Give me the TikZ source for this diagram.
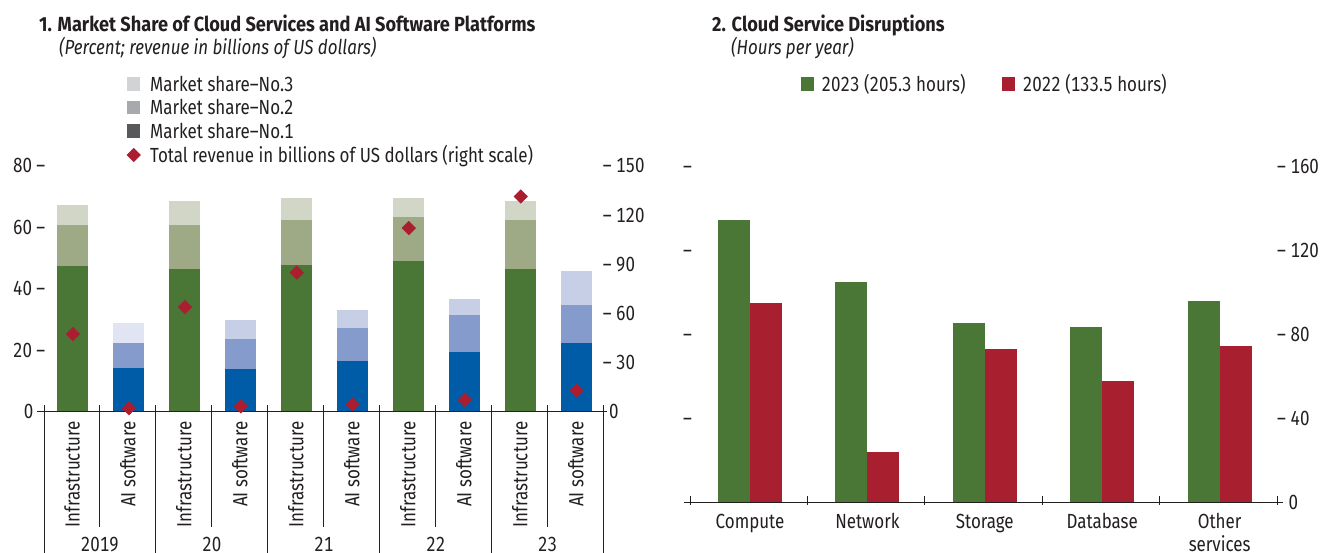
\documentclass[tikz,border=0pt]{standalone}
\usepackage{fontspec}
\setmainfont{Fira Sans}[FakeStretch=0.83, Numbers=Monospaced]
\newfontfamily\headfont{Fira Sans}[FakeStretch=0.89]
\usetikzlibrary{shapes.geometric}

\definecolor{ink}{HTML}{231F20}
\definecolor{inf1}{HTML}{4A7636}
\definecolor{inf2}{HTML}{9DAA85}
\definecolor{inf3}{HTML}{D2D6C6}
\definecolor{ai1}{HTML}{005CA6}
\definecolor{ai2}{HTML}{859BCB}
\definecolor{ai3}{HTML}{C7CFE6}
\definecolor{ai3a}{HTML}{E0E4F3}
\definecolor{rev}{HTML}{AA1E30}
\definecolor{lg1}{HTML}{58595B}
\definecolor{lg2}{HTML}{A7A9AC}
\definecolor{lg3}{HTML}{D1D3D4}
\definecolor{yr23}{HTML}{4A7636}
\definecolor{yr22}{HTML}{A81F2F}

\begin{document}
\begin{tikzpicture}[x=1bp, y=-1bp,
  lbl/.style={inner sep=0pt, text=ink, font=\fontsize{20.5}{23}\selectfont},
  ttl/.style={lbl, font=\fontsize{20.5}{23}\selectfont\headfont\bfseries},
  sub/.style={lbl, font=\fontsize{20.5}{23}\selectfont\itshape},
  key/.style={inner sep=0pt, minimum size=13.4bp, draw=none},
  diam/.style={diamond, inner sep=0pt, minimum width=14.5bp, minimum height=14.5bp, fill=rev, draw=none},
  axisline/.style={line width=1.2bp, draw=ink},
  sepline/.style={line width=1bp, draw=ink}]
\useasboundingbox (0,0) rectangle (1320,553);

% ---------------- Panel 1: market share ----------------
\node[ttl, anchor=base west] (t1) at (39,31.7) {1. Market Share of Cloud Services and AI Software Platforms};
\node[sub, anchor=base west] (s1) at (59,54.3) {(Percent; revenue in billions of US dollars)};

\foreach \c/\y/\t [count=\i] in {lg3/84/Market share–No.3, lg2/107.3/Market share–No.2, lg1/131/Market share–No.1}{
  \node[key, fill=\c] (lk\i) at (133.7,\y) {};
  \node[lbl, anchor=base west] (lt\i) at (150,\y+7.5) {\t};
}
\node[diam] (lk4) at (133.7,155) {};
\node[lbl, anchor=base west] (lt4) at (150,162.5) {Total revenue in billions of US dollars (right scale)};

% left scale (percent) and right scale (billions)
\foreach \v in {20,40,60,80}
  \node[lbl, anchor=base east] (ly\v) at (45.5,411.5-\v*3.069+7) {\v\ –};
\node[lbl, anchor=base east] (ly0) at (33.5,418.5) {0};
\foreach \v in {30,60,90,120,150}
  \node[lbl, anchor=base west] (ry\v) at (602.7,411.5-\v*1.6367+7) {– \v};
\node[lbl, anchor=base west] (ry0) at (609,418.5) {0};

% stacked bars: No.1 / No.1+No.2 / total
\begin{scope}[shift={(0,411.5)}, y=3.069bp]
  \foreach \a/\b/\c [count=\j from 0] in {47.4/60.8/67.3, 46.4/60.8/68.6, 47.7/62.4/69.6, 49.0/63.4/69.6, 46.4/62.4/68.6}{
    \pgfmathsetmacro\cx{44+55.97*(2*\j+0.5)+1}
    \fill[inf3] (\cx-15.5,\b) rectangle (\cx+15.5,\c);
    \fill[inf2] (\cx-15.5,\a) rectangle (\cx+15.5,\b);
    \fill[inf1] (\cx-15.5,0) rectangle (\cx+15.5,\a);
  }
  \foreach \a/\b/\c/\top [count=\j from 0] in {14.2/22.3/28.8/ai3a, 13.8/23.6/29.8/ai3, 16.5/27.2/33.1/ai3, 19.4/31.5/36.7/ai3, 22.3/34.7/45.8/ai3}{
    \pgfmathsetmacro\cx{44+55.97*(2*\j+1.5)+1}
    \fill[\top] (\cx-15.5,\b) rectangle (\cx+15.5,\c);
    \fill[ai2] (\cx-15.5,\a) rectangle (\cx+15.5,\b);
    \fill[ai1] (\cx-15.5,0) rectangle (\cx+15.5,\a);
  }
\end{scope}

% axis and category separators
\draw[axisline] (37.3,411.5) -- (606.7,411.5);
\foreach \k in {0,2,...,10}
  \draw[sepline] (44+55.97*\k,405) -- (44+55.97*\k,553);
\foreach \k in {1,3,...,9}
  \draw[sepline] (44+55.97*\k,405) -- (44+55.97*\k,527);

% total revenue markers
\begin{scope}[shift={(0,411.5)}, y=1.6367bp]
  \foreach \r [count=\i from 0] in {47.3,2.0,63.8,3.2,84.9,4.4,112.1,7.2,131.4,12.7}
    \node[diam] (rv\i) at ({44+55.97*(\i+0.5)+1},\r) {};
\end{scope}

% category and year labels
\foreach \j in {0,...,4}{
  \node[lbl, rotate=90, anchor=east] (ci\j) at ({44+55.97*(2*\j+0.5)},421.5) {Infrastructure};
  \node[lbl, rotate=90, anchor=east] (ca\j) at ({44+55.97*(2*\j+1.5)},421.5) {AI software};
}
\foreach \t [count=\j from 0] in {2019,20,21,22,23}
  \node[lbl, anchor=base] (yr\j) at ({44+55.97*(2*\j+1)},551) {\t};

% ---------------- Panel 2: disruptions ----------------
\node[ttl, anchor=base west] (t2) at (712,31.7) {2. Cloud Service Disruptions};
\node[sub, anchor=base west] (s2) at (731,54.3) {(Hours per year)};

\node[key, fill=yr23] (k23) at (807.3,84) {};
\node[lbl, anchor=base west] (l23) at (821.5,91.5) {2023 (205.3 hours)};
\node[key, fill=yr22] (k22) at (1008.2,84) {};
\node[lbl, anchor=base west] (l22) at (1022.6,91.5) {2022 (133.5 hours)};

\foreach \v in {40,80,120,160}{
  \node[lbl, anchor=base west] (dl\v) at (683,502.3-\v*2.1+7) {–};
  \node[lbl, anchor=base west] (dr\v) at (1277,502.3-\v*2.1+7) {– \v};
}
\node[lbl, anchor=base west] (dr0) at (1288.5,509.3) {0};

\begin{scope}[shift={(0,502.3)}, y=2.1bp]
  \foreach \g/\r [count=\j from 0] in {134.4/94.9, 104.9/24.0, 85.4/73.0, 83.5/57.9, 95.9/74.5}{
    \pgfmathsetmacro\cx{750+117.4*\j}
    \fill[yr23] (\cx-32,0) rectangle (\cx,\g);
    \fill[yr22] (\cx,0) rectangle (\cx+32,\r);
  }
\end{scope}

\draw[axisline] (684,502.3) -- (1283,502.3);
\foreach \k in {0,...,5}
  \draw[sepline] (690+117.4*\k,496) -- (690+117.4*\k,505);

\foreach \t [count=\j from 0] in {Compute,Network,Storage,Database,Other}
  \node[lbl, anchor=base] (dc\j) at (750+117.4*\j,528.5) {\t};
\node[lbl, anchor=base] (dc5) at (1219.6,551) {services};
\end{tikzpicture}
\end{document}
